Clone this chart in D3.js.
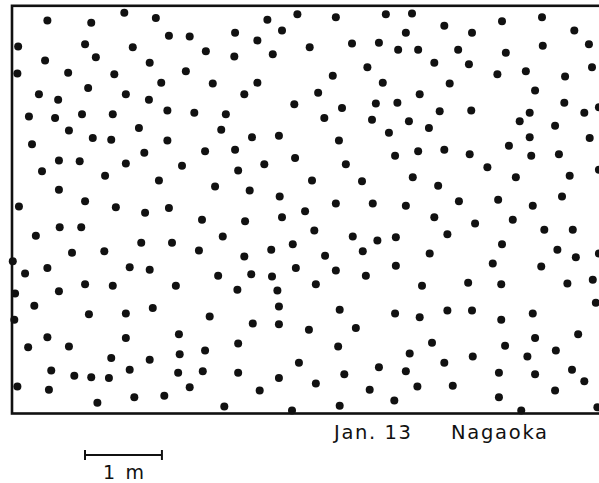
<!DOCTYPE html>
<html>
<head>
<meta charset="utf-8">
<script src="https://cdn.jsdelivr.net/npm/d3@7"></script>
<style>
  body { margin: 0; background: #fff; }
  text { font-family: "DejaVu Sans", "Liberation Sans", sans-serif; fill: #111; }
</style>
</head>
<body>
<svg id="chart" width="599" height="483"></svg>
<script>
// snow-pit positions in cm, measured from the lower left corner of the plot

// west third of the plot
const westX = [46,103,146,187,204,231,8,95,157,43,109,179,7,73,133,226,194,35,60,99,148,178,22,56,91,131,202,237,74,165,105,129,202,26,172,61,88,148,221,39,121,191,61,95,9,135,173,204,62,90,31,168,208,243,78,120,1,46,17,153,179,95,131,213,4,61,29,100,148,183,3,46,21,74,148,217,129,179,218,51,81,103,126,153,216,7,48,231,111,159,198];
const westY = [511,508,521,514,491,490,477,480,476,459,463,456,442,443,441,445,430,415,408,423,415,408,386,384,389,389,394,391,368,371,358,356,355,350,339,329,328,325,322,315,309,303,291,276,269,268,261,267,242,242,231,222,222,212,209,211,198,189,182,190,187,168,166,166,156,159,140,129,130,137,122,99,86,87,98,103,72,70,77,56,49,47,46,57,53,35,31,34,14,21,23];

// middle third
const middleX = [371,332,421,486,290,351,319,252,289,339,387,442,477,502,462,417,482,261,319,302,398,367,429,473,501,278,406,468,272,312,347,425,490,251,290,498,328,368,434,294,390,455,264,309,348,421,469,247,303,351,381,393,274,443,475,499,302,337,365,407,456,499,268,311,338,369,421,460,293,345,395,347,426,498,257,313,347,386,447,294,424,251,373,477,248,294,347,395,432,322,465,497,276,364,426];
const middleY = [519,512,515,519,495,498,485,471,464,467,476,481,482,473,450,439,430,429,430,415,417,402,397,403,404,389,384,382,369,359,361,355,365,341,343,335,324,332,324,316,303,302,295,290,282,273,273,252,250,255,263,238,230,230,225,229,204,213,220,205,211,192,179,181,178,189,186,179,161,160,168,139,135,130,126,117,116,109,111,91,87,82,66,60,55,53,46,39,51,30,31,17,9,4,10];

// east third
const eastX = [520,562,637,689,512,598,731,528,580,642,690,750,549,594,631,668,719,754,569,530,680,556,597,673,718,744,516,542,660,706,673,751,646,763,528,562,595,675,711,618,521,554,655,725,763,512,581,632,677,715,549,602,651,566,692,729,637,543,709,733,763,625,688,593,636,722,755,533,759,530,566,598,636,677,546,641,680,736,517,562,599,670,707,512,633,680,728,744,527,573,706,633,662,761];
const eastY = [520,504,510,515,495,495,498,473,473,469,478,480,456,454,441,445,438,450,429,415,420,393,394,391,404,391,380,371,380,374,359,358,348,398,341,343,337,335,337,320,307,296,307,309,317,270,276,278,270,282,255,247,252,233,239,239,220,208,213,203,208,195,191,170,168,169,174,166,144,125,134,134,122,130,92,88,98,103,78,66,74,74,82,55,53,51,57,42,35,36,30,21,4,8];

const plotWidthCm = 770;
const plotHeightCm = 530;
const scaleBarCm = 100;

const dateLabel = 'Jan. 13';
const siteLabel = 'Nagaoka';
const scaleLabel = '1 m';

const svg = d3.select('#chart');

const x = d3.scaleLinear().domain([0, plotWidthCm]).range([12, 12 + plotWidthCm / 1.3]);
const y = d3.scaleLinear().domain([0, plotHeightCm]).range([413.5, 413.5 - plotHeightCm / 1.3]);

const points = [].concat(
  d3.zip(westX, westY),
  d3.zip(middleX, middleY),
  d3.zip(eastX, eastY)
);

// frame
svg.append('rect')
  .attr('x', x(0))
  .attr('y', y(plotHeightCm))
  .attr('width', x(plotWidthCm) - x(0))
  .attr('height', y(0) - y(plotHeightCm))
  .attr('fill', 'none')
  .attr('stroke', '#111')
  .attr('stroke-width', 2.6);

svg.append('g')
  .selectAll('circle')
  .data(points)
  .enter().append('circle')
  .attr('cx', d => x(d[0]))
  .attr('cy', d => y(d[1]))
  .attr('r', 4)
  .attr('fill', '#111');

// scale bar
const barX0 = 85;
const barX1 = barX0 + (x(scaleBarCm) - x(0));
const barY = 455;
const bar = svg.append('g').attr('stroke', '#111').attr('stroke-width', 2);
bar.append('line').attr('x1', barX0).attr('x2', barX1).attr('y1', barY).attr('y2', barY);
bar.append('line').attr('x1', barX0).attr('x2', barX0).attr('y1', barY - 5).attr('y2', barY + 5);
bar.append('line').attr('x1', barX1).attr('x2', barX1).attr('y1', barY - 5).attr('y2', barY + 5);

svg.append('text').attr('x', 103).attr('y', 479)
  .attr('font-size', 19).attr('textLength', 41).attr('lengthAdjust', 'spacing')
  .text(scaleLabel);

svg.append('text').attr('x', 334).attr('y', 439)
  .attr('font-size', 19.5).attr('textLength', 77).attr('lengthAdjust', 'spacing')
  .text(dateLabel);

svg.append('text').attr('x', 451).attr('y', 439)
  .attr('font-size', 19.5).attr('textLength', 96).attr('lengthAdjust', 'spacing')
  .text(siteLabel);
</script>
</body>
</html>
